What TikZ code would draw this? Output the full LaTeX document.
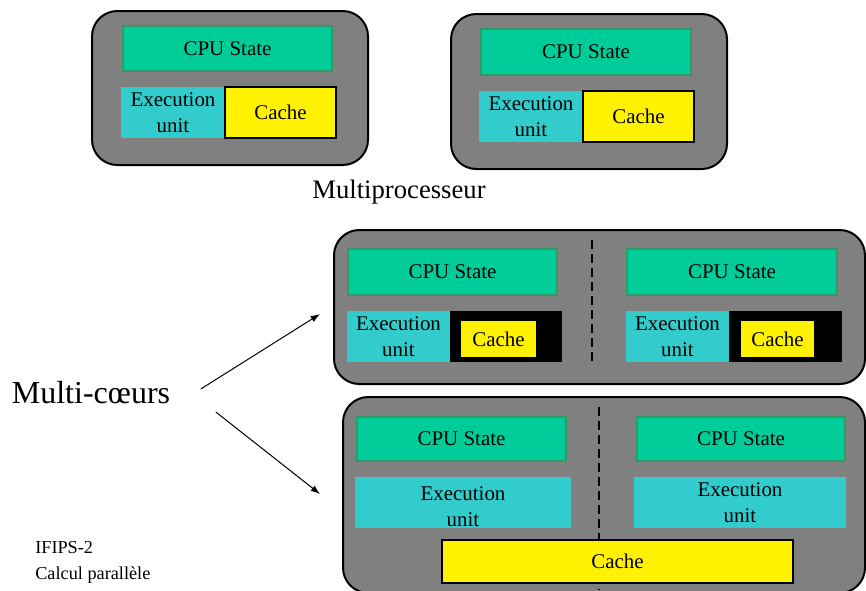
\documentclass[tikz,border=0pt]{standalone}
\usepackage{fontspec}
\setmainfont{Liberation Serif}
\usetikzlibrary{calc}
\usetikzlibrary{positioning}
\usetikzlibrary{arrows.meta}
\definecolor{shellgray}{RGB}{128,128,128}
\definecolor{stategreen}{RGB}{0,204,153}
\definecolor{stateedge}{RGB}{51,153,102}
\definecolor{unitcyan}{RGB}{51,204,204}
\begin{document}
\begin{tikzpicture}[x=0.75pt,y=-0.75pt]
      \tikzset{sz/.style 2 args={minimum width=#1*0.75pt, minimum height=#2*0.75pt,
        inner sep=0pt, outer sep=0pt, anchor=north west}};
      \tikzset{shell/.style={draw, line width=1.5pt, fill=shellgray, rounded corners=19pt}};
      \tikzset{cpu/.style={draw=stateedge, line width=1.5pt, fill=stategreen,
        font=\fontsize{15.7}{20}\selectfont}};
      \tikzset{unit/.style={fill=unitcyan, align=center, font=\fontsize{15.7}{20}\selectfont}};
      \tikzset{cache/.style={fill=yellow, font=\fontsize{15.7}{20}\selectfont}};
      \tikzset{sep/.style={line width=1.5pt, dash pattern=on 6.75pt off 3.75pt}};
      \useasboundingbox (0,0) rectangle (866,590);
      \clip (0,0) rectangle (866,590);

      % multiprocesseur
      \node[shell, sz={276}{154}](procA) at (92,11){};
      \node[cpu, sz={209}{45}](cpuA) at (123,26){CPU State};
      \node[unit, sz={104}{51}](execA) at (121,87){Execution\\unit};
      \node[cache, draw, line width=1.5pt, sz={111}{51}, right = 0pt of execA.north east, anchor=north west](cacheA){Cache};

      \node[shell, sz={276}{155}](procB) at (451,14){};
      \node[cpu, sz={210}{46}](cpuB) at (481,29){CPU State};
      \node[unit, sz={104}{51}](execB) at (479,91){Execution\\unit};
      \node[cache, draw, line width=1.5pt, sz={111}{51}, right = 0pt of execB.north east, anchor=north west](cacheB){Cache};

      \node[font=\fontsize{20}{24}\selectfont](multiP) at (399,192){Multiprocesseur};

      % multi-coeurs, caches separes
      \node[shell, sz={531}{154}](coreA) at (334,230){};
      \coordinate (sepAtop) at (592,240);
      \coordinate (sepAbot) at (592,363);
      \draw[sep] (sepAtop) -- (sepAbot);
      \node[cpu, sz={209}{46}](cpuC) at (348,249){CPU State};
      \node[cpu, sz={210}{46}](cpuD) at (627,249){CPU State};
      \node[unit, sz={103}{51}](execC) at (347,311){Execution\\unit};
      \node[fill=black, sz={112}{51}, right = 0pt of execC.north east, anchor=north west](blkC){};
      \node[unit, sz={103}{51}](execD) at (626,311){Execution\\unit};
      \node[fill=black, sz={113}{51}, right = 0pt of execD.north east, anchor=north west](blkD){};
      \node[cache, sz={75}{36}](cacheC) at (461,321){Cache};
      \node[cache, sz={73}{36}](cacheD) at (741,321){Cache};

      % multi-coeurs, cache partage
      \node[shell, sz={522}{196}](coreB) at (343,397){};
      \coordinate (sepBtop) at (599,407);
      \coordinate (sepBbot) at (599,590);
      \draw[sep] (sepBtop) -- (sepBbot);
      \node[cpu, sz={209}{44}](cpuE) at (357,417){CPU State};
      \node[cpu, sz={208}{44}](cpuF) at (637,417){CPU State};
      \node[unit, sz={216}{51}, label={[align=center, font=\fontsize{15.7}{20}\selectfont, yshift=-3pt]center:Execution\\unit}](execE) at (355,477){};
      \node[unit, sz={212}{51}](execF) at (634,477){Execution\\unit};
      \node[cache, draw, line width=1.5pt, sz={351}{43}](cacheE) at (442,540){Cache};

      % fleches
      \node[font=\fontsize{24}{28}\selectfont](multiC) at (91,393){Multi-cœurs};
      \coordinate (tipA) at (320,314);
      \coordinate (tipB) at (320,494);
      \draw[line width=0.75pt,-{Latex[length=7pt,width=5pt]}] ([shift={(26,-4)}]multiC.east) -- (tipA);
      \draw[line width=0.75pt,-{Latex[length=7pt,width=5pt]}] ([shift={(41,19)}]multiC.east) -- (tipB);

      \node[align=left, anchor=north west, inner sep=0pt, font=\fontsize{13.7}{19.5}\selectfont](foot) at (35,541){IFIPS-2\\Calcul parallèle};
\end{tikzpicture}
\end{document}
